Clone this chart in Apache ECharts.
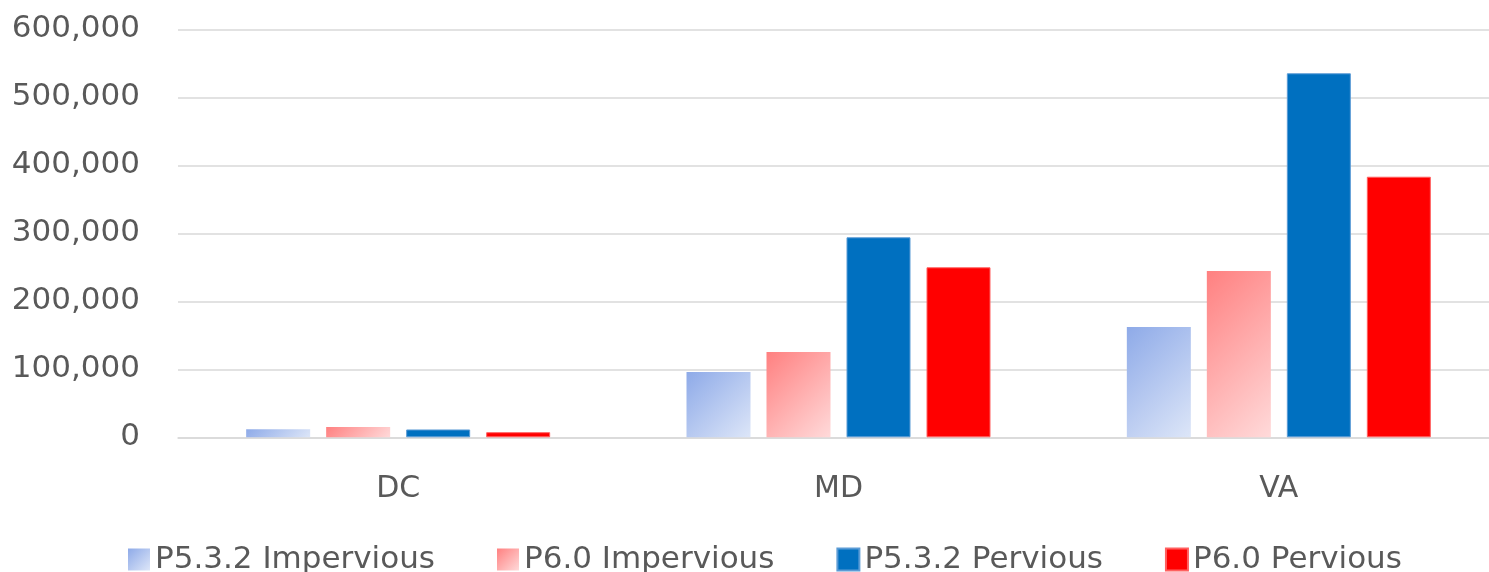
<!DOCTYPE html>
<html>
<head>
<meta charset="utf-8">
<script src="https://cdn.jsdelivr.net/npm/echarts@6/dist/echarts.min.js"></script>
<style>
  html, body { margin: 0; padding: 0; background: #ffffff; overflow: hidden; }
  /* the plot runs slightly past the right edge of the page, so the canvas is wider than the window */
  #chart { width: 1499px; height: 572px; }
</style>
</head>
<body>
<div id="chart"></div>
<script>
// Regions on the category axis
const categories = ['DC', 'MD', 'VA'];

// Loads per region for each model version and land type
const p532Impervious = [12000, 96000, 162200];
const p60Impervious = [15000, 125400, 244600];
const p532Pervious = [11500, 294100, 535300];
const p60Pervious = [7500, 250000, 383200];

// Value axis range
const yMin = 0;
const yMax = 600000;
const yStep = 100000;

const textColor = '#595959';
const font = 'DejaVu Sans';
const BAR_W = 64;

// Diagonal fill at a fixed 45 degree angle, whatever the bar's aspect ratio.
// Gradient coords are fractions of the bar box, so the end point is scaled by w and h.
function diagGradient(from, to, w, h) {
  const hh = Math.max(h, 1);
  const s = (w + hh) / 2;
  return new echarts.graphic.LinearGradient(0, 0, s / w, s / hh, [
    { offset: 0, color: from },
    { offset: 1, color: to }
  ]);
}

const chart = echarts.init(document.getElementById('chart'), null, { renderer: 'canvas' });

const seriesDefs = [
  { name: 'P5.3.2 Impervious', data: p532Impervious, grad: ['#8eaae8', '#dde6f8'] },
  { name: 'P6.0 Impervious', data: p60Impervious, grad: ['#ff8080', '#ffdada'] },
  { name: 'P5.3.2 Pervious', data: p532Pervious, color: '#0070c0', border: '#5b9bd5' },
  { name: 'P6.0 Pervious', data: p60Pervious, color: '#ff0000', border: '#ff6060' }
];

const option = {
  animation: false,
  backgroundColor: '#ffffff',
  grid: {
    left: 178,
    right: 0,
    top: 29.3,
    bottom: 134.7,
    containLabel: false
  },
  legend: {
    left: 128,
    top: 544,
    padding: 0,
    itemWidth: 22,
    itemHeight: 22,
    itemGap: 62,
    icon: 'rect',
    textStyle: { color: textColor, fontSize: 31, fontFamily: font },
    data: seriesDefs.map(d => d.name)
  },
  xAxis: {
    type: 'category',
    data: categories,
    axisLine: { show: true, lineStyle: { color: '#d9d9d9', width: 1.5 } },
    axisTick: { show: false },
    axisLabel: { color: textColor, fontSize: 30, fontFamily: font, margin: 37 }
  },
  yAxis: {
    type: 'value',
    min: yMin,
    max: yMax,
    interval: yStep,
    axisLine: { show: false },
    axisTick: { show: false },
    splitLine: { lineStyle: { color: '#d9d9d9', width: 1.5 } },
    axisLabel: {
      color: textColor,
      fontSize: 31,
      fontFamily: font,
      margin: 38,
      padding: [0, 0, 8, 0],
      formatter: v => v.toLocaleString('en-US')
    }
  },
  series: seriesDefs.map(d => ({
    name: d.name,
    type: 'bar',
    data: d.data,
    barWidth: BAR_W,
    barGap: '25%',
    itemStyle: d.grad
      ? { color: d.grad[0] }
      : { color: d.color, borderColor: d.border, borderWidth: 1 }
  }))
};

chart.setOption(option);

// Once the value scale is laid out, give each gradient bar a fill sized to its own height.
const basePx = chart.convertToPixel({ yAxisIndex: 0 }, 0);
chart.setOption({
  series: seriesDefs.map(d => {
    if (!d.grad) return {};
    return {
      data: d.data.map(v => {
        const h = basePx - chart.convertToPixel({ yAxisIndex: 0 }, v);
        return { value: v, itemStyle: { color: diagGradient(d.grad[0], d.grad[1], BAR_W, h) } };
      })
    };
  }),
  legend: {
    data: seriesDefs.map(d => ({
      name: d.name,
      itemStyle: d.grad ? { color: diagGradient(d.grad[0], d.grad[1], 22, 22) } : undefined
    }))
  }
});
</script>
</body>
</html>
